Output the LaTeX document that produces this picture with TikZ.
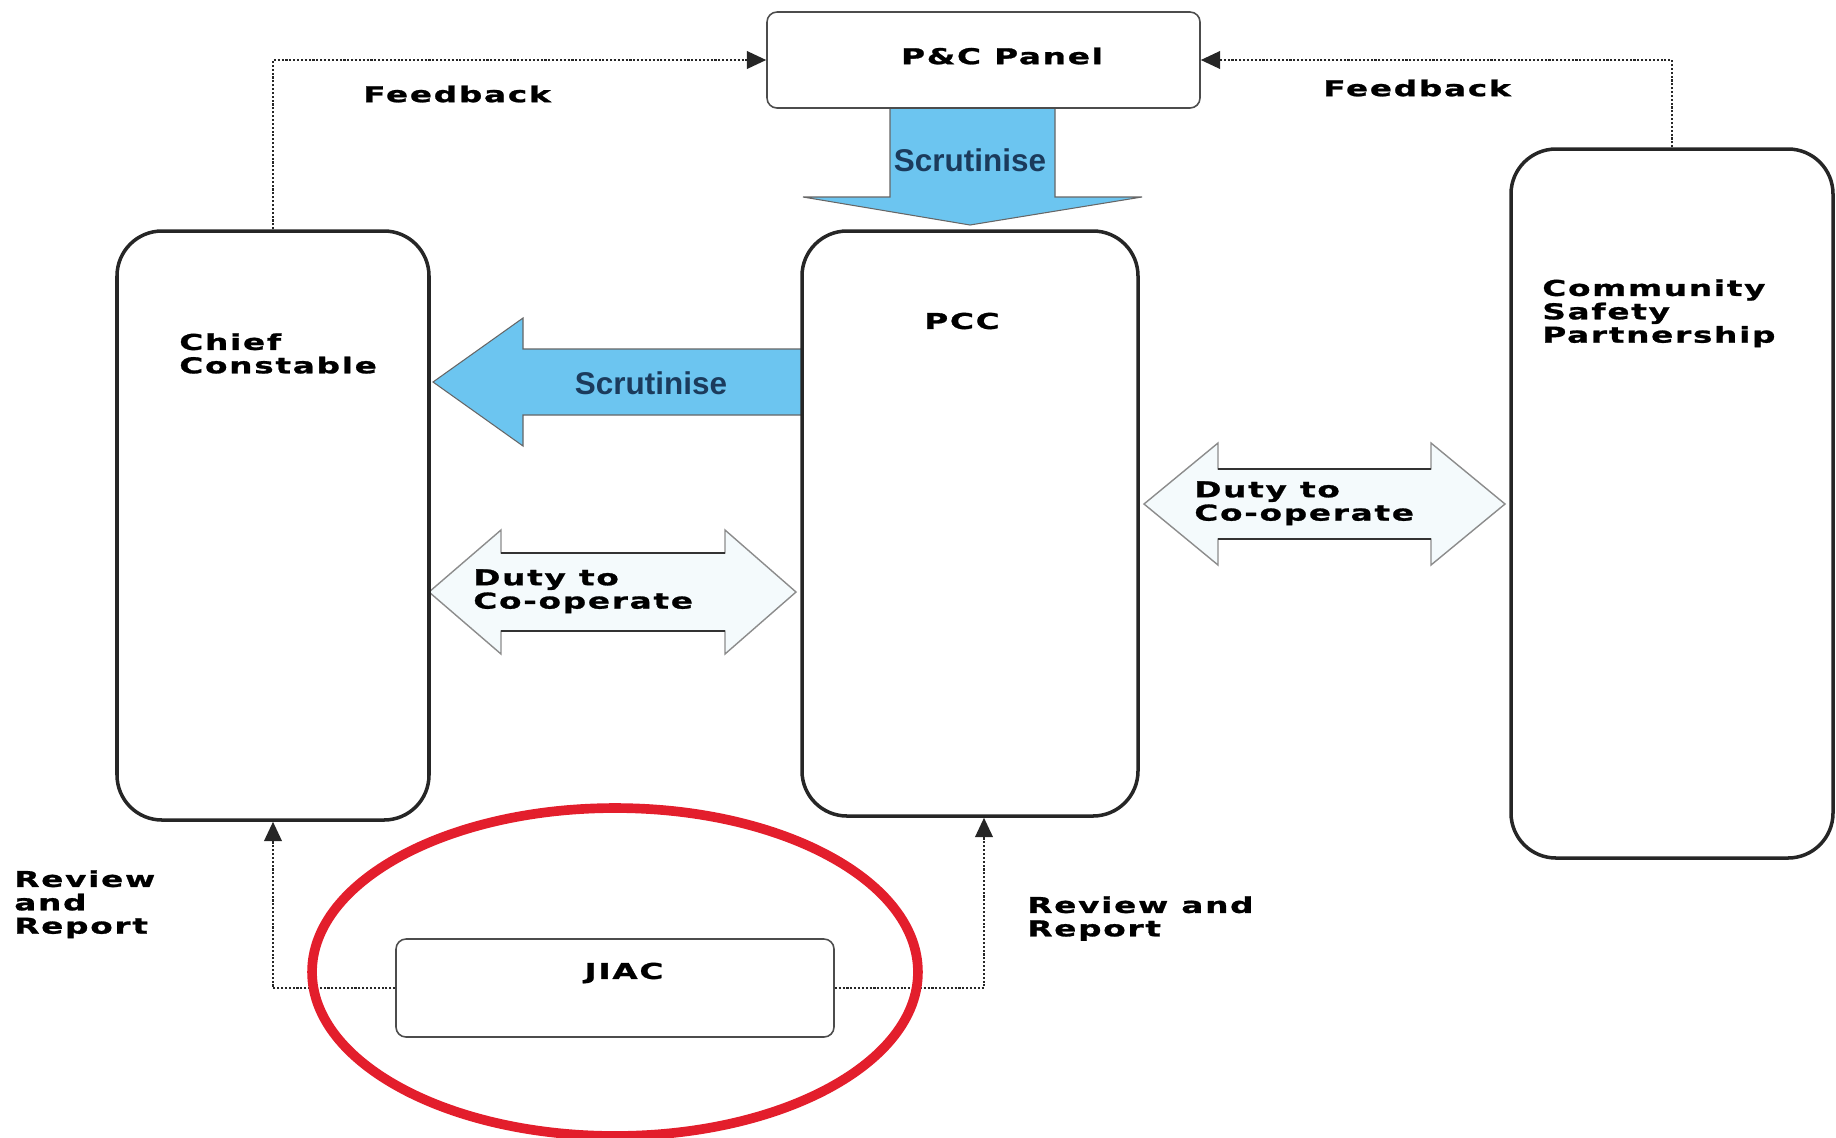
\documentclass[tikz,border=0pt]{standalone}
\usepackage{fontspec}
\setmainfont{DejaVu Sans}
\newfontfamily\lblfont{DejaVu Sans}[FakeStretch=1.5,LetterSpace=8,BoldFeatures={FakeBold=1.2}]
\newfontfamily\scrfont{Liberation Sans}
\usetikzlibrary{arrows.meta,fit}
\definecolor{arrowblue}{HTML}{6CC5F0}
\definecolor{scrtext}{HTML}{1B3B5C}
\definecolor{ovalred}{HTML}{E31E2C}
\definecolor{dutyfill}{HTML}{F4FAFC}
\begin{document}
\begin{tikzpicture}[x=0.02cm,y=-0.02cm,
  bigbox/.style={draw=black!85, fill=white, line width=2pt, rounded corners=0.9cm, inner sep=0pt},
  smallbox/.style={draw=black!70, fill=white, line width=0.9pt, rounded corners=0.2cm, inner sep=0pt},
  lbl/.style={font=\lblfont\bfseries\fontsize{12.4}{13.3}\selectfont, inner sep=0pt, align=left, text=black},
  scr/.style={font=\scrfont\bfseries\fontsize{17.9}{20}\selectfont, text=scrtext, inner sep=0pt},
  link/.style={draw=black!85, line width=1.2pt, densely dotted, -{Triangle[length=11pt,width=10pt]}},
  blockarrow/.style={fill=arrowblue, draw=black!60, line width=0.6pt},
  dutyarrow/.style={fill=dutyfill, draw=black!45, line width=0.8pt},
]
\useasboundingbox (0,0) rectangle (1836,1137);

% block arrows (drawn first, boxes on top)
\draw[blockarrow] (890,108) -- (1055,108) -- (1055,197) -- (1142,197) -- (970,225) -- (803,197) -- (890,197) -- cycle;
\draw[blockarrow] (802,349) -- (523,349) -- (523,318) -- (433,382) -- (523,446) -- (523,415) -- (802,415) -- cycle;
\draw[dutyarrow] (429,592) -- (501,530) -- (501,553) -- (725,553) -- (725,530) -- (796,592) -- (725,654) -- (725,631) -- (501,631) -- (501,654) -- cycle;
\draw[dutyarrow] (1144,504) -- (1218,443) -- (1218,469) -- (1431,469) -- (1431,443) -- (1505,504) -- (1431,565) -- (1431,539) -- (1218,539) -- (1218,565) -- cycle;
\draw[black!80, line width=0.9pt] (501,553) -- (725,553) (501,631) -- (725,631) (1218,469) -- (1431,469) (1218,539) -- (1431,539);

% boxes
\node[smallbox, fit={(767,12)(1200,108)}] (panel) {};
\node[bigbox, fit={(117,231)(429,820)}] (chief) {};
\node[bigbox, fit={(802,231)(1138,816)}] (pcc) {};
\node[bigbox, fit={(1511,149)(1833,858)}] (csp) {};
\node[smallbox, fit={(396,939)(834,1037)}] (jiac) {};

% arrow texts
\node[scr] (scrdown) at (970,160) {Scrutinise};
\node[scr] (scrleft) at (651,383) {Scrutinise};
\node[lbl, anchor=north west] (dutyl) at (473,569) {Duty to\\Co-operate};
\node[lbl, anchor=north west] (dutyr) at (1194,481) {Duty to\\Co-operate};

% box texts
\node[lbl] (paneltext) at (1002,56) {P\&C Panel};
\node[lbl] (pcctext) at (962,321) {PCC};
\node[lbl] (jiactext) at (624,973) {JIAC};
\node[lbl, anchor=north west] (chieftext) at (179,333) {Chief\\Constable};
\node[lbl, anchor=north west] (csptext) at (1542,279) {Community\\Safety\\Partnership};

% connectors
\draw[link] (chief.north) |- (panel.west);
\draw[link] (csp.north) |- (panel.east);
\draw[link] (jiac.west) -| (chief.south);
\draw[link] (jiac.east) -| ([xshift=0.28cm]pcc.south);

% connector labels
\node[lbl] (fbl) at (457,94) {Feedback};
\node[lbl] (fbr) at (1417,88) {Feedback};
\node[lbl, anchor=north west] (rrl) at (14,870) {Review\\and\\Report};
\node[lbl, anchor=north west] (rrr) at (1027,896) {Review and\\Report};

% red oval
\draw[ovalred, line width=5.5pt] (615,972) ellipse [x radius=6.06cm, y radius=3.28cm];
\end{tikzpicture}
\end{document}
